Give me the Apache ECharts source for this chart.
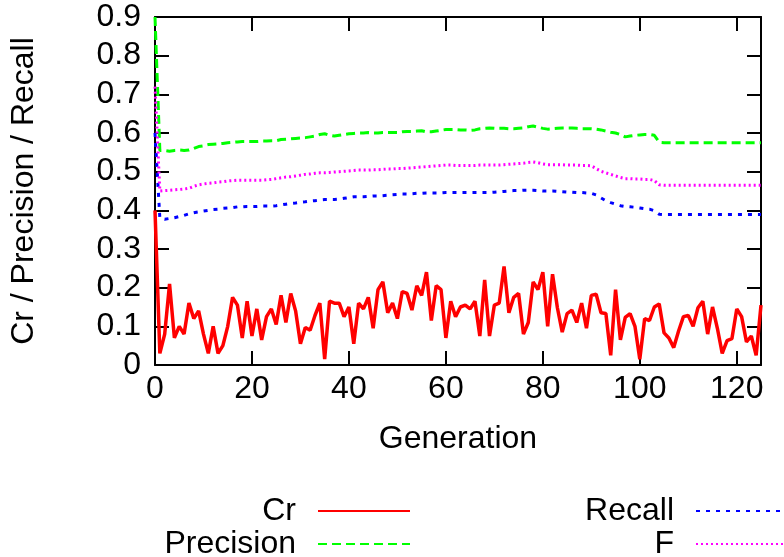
<!DOCTYPE html>
<html>
<head>
<meta charset="UTF-8">
<title>Cr / Precision / Recall</title>
<script src="https://cdn.jsdelivr.net/npm/echarts@6/dist/echarts.min.js"></script>
<style>
  html, body { margin: 0; padding: 0; background: #fff; }
  #main { width: 784px; height: 557px; }
</style>
</head>
<body>
<div id="main"></div>
<script type="text/javascript">
// x domain: generations 0..125
var generations = Array.from({ length: 126 }, function (_, i) { return i; });

var crData = [
  0.40, 0.03, 0.08, 0.21, 0.07, 0.10, 0.08, 0.16, 0.12, 0.14,
  0.08, 0.03, 0.10, 0.03, 0.05, 0.10, 0.175, 0.155, 0.07, 0.165,
  0.075, 0.145, 0.065, 0.125, 0.145, 0.105, 0.18, 0.11, 0.185, 0.14,
  0.055, 0.097, 0.09, 0.128, 0.16, 0.015, 0.165, 0.16, 0.16, 0.125,
  0.15, 0.055, 0.16, 0.145, 0.175, 0.095, 0.195, 0.215, 0.135, 0.16,
  0.12, 0.19, 0.185, 0.142, 0.205, 0.18, 0.24, 0.115, 0.205, 0.195,
  0.07, 0.165, 0.125, 0.15, 0.155, 0.145, 0.165, 0.075, 0.22, 0.075,
  0.155, 0.16, 0.255, 0.135, 0.175, 0.185, 0.08, 0.11, 0.215, 0.195,
  0.24, 0.10, 0.235, 0.148, 0.085, 0.133, 0.142, 0.11, 0.16, 0.095,
  0.18, 0.183, 0.135, 0.133, 0.025, 0.195, 0.065, 0.123, 0.133, 0.10,
  0.015, 0.12, 0.115, 0.15, 0.158, 0.083, 0.07, 0.045, 0.088, 0.125,
  0.128, 0.10, 0.148, 0.165, 0.08, 0.15, 0.095, 0.03, 0.063, 0.068,
  0.145, 0.125, 0.06, 0.075, 0.025, 0.155
];

var precisionData = [
  0.90, 0.555, 0.555, 0.553, 0.555, 0.556, 0.555, 0.556, 0.56, 0.565,
  0.567, 0.57, 0.571, 0.572, 0.573, 0.575, 0.576, 0.577, 0.578, 0.578,
  0.578, 0.578, 0.579, 0.579, 0.58, 0.58, 0.583, 0.584, 0.585, 0.586,
  0.587, 0.588, 0.59, 0.592, 0.596, 0.598, 0.594, 0.592, 0.594, 0.596,
  0.598, 0.599, 0.60, 0.60, 0.601, 0.60, 0.60, 0.601, 0.601, 0.601,
  0.601, 0.603, 0.604, 0.604, 0.605, 0.606, 0.603, 0.603, 0.605, 0.607,
  0.609, 0.609, 0.609, 0.608, 0.608, 0.607, 0.608, 0.611, 0.612, 0.613,
  0.612, 0.612, 0.612, 0.611, 0.611, 0.612, 0.613, 0.616, 0.618, 0.615,
  0.612, 0.61, 0.611, 0.612, 0.613, 0.613, 0.613, 0.612, 0.611, 0.611,
  0.611, 0.61, 0.608, 0.605, 0.602, 0.60, 0.596, 0.59, 0.592, 0.594,
  0.595, 0.596, 0.596, 0.594, 0.576, 0.575, 0.575, 0.575, 0.575, 0.575,
  0.575, 0.575, 0.575, 0.575, 0.575, 0.575, 0.575, 0.575, 0.575, 0.575,
  0.575, 0.575, 0.575, 0.575, 0.575, 0.575
];

var recallData = [
  0.60, 0.38, 0.377, 0.379, 0.381, 0.384, 0.387, 0.391, 0.394, 0.396,
  0.398, 0.40, 0.402, 0.403, 0.405, 0.406, 0.407, 0.409, 0.409, 0.41,
  0.41, 0.41, 0.411, 0.411, 0.411, 0.412, 0.414, 0.416, 0.418, 0.419,
  0.421, 0.422, 0.424, 0.425, 0.427, 0.428, 0.428, 0.428, 0.429, 0.431,
  0.433, 0.435, 0.435, 0.435, 0.436, 0.437, 0.437, 0.438, 0.439, 0.44,
  0.441, 0.442, 0.442, 0.443, 0.444, 0.444, 0.445, 0.445, 0.445, 0.445,
  0.446, 0.446, 0.446, 0.446, 0.446, 0.446, 0.446, 0.446, 0.446, 0.446,
  0.447, 0.448, 0.449, 0.45, 0.451, 0.451, 0.452, 0.452, 0.452, 0.451,
  0.45, 0.45, 0.45, 0.449, 0.448, 0.447, 0.447, 0.446, 0.446, 0.445,
  0.444, 0.44, 0.432, 0.425, 0.42, 0.416, 0.412, 0.41, 0.409, 0.408,
  0.406, 0.404, 0.403, 0.399, 0.39, 0.389, 0.389, 0.389, 0.389, 0.389,
  0.389, 0.389, 0.389, 0.389, 0.389, 0.389, 0.389, 0.389, 0.389, 0.389,
  0.389, 0.389, 0.389, 0.389, 0.389, 0.389
];

var fData = [
  0.72, 0.45, 0.451, 0.452, 0.453, 0.454, 0.455, 0.457, 0.462, 0.466,
  0.468, 0.47, 0.471, 0.473, 0.474, 0.476, 0.477, 0.478, 0.478, 0.478,
  0.478, 0.478, 0.478, 0.479, 0.48, 0.482, 0.484, 0.486, 0.487, 0.489,
  0.491, 0.493, 0.494, 0.496, 0.497, 0.497, 0.498, 0.499, 0.50, 0.501,
  0.502, 0.503, 0.504, 0.504, 0.504, 0.505, 0.505, 0.506, 0.507, 0.507,
  0.508, 0.508, 0.509, 0.51, 0.511, 0.512, 0.513, 0.514, 0.515, 0.516,
  0.517, 0.517, 0.516, 0.516, 0.516, 0.516, 0.516, 0.517, 0.517, 0.517,
  0.517, 0.517, 0.518, 0.519, 0.52, 0.521, 0.522, 0.524, 0.525, 0.523,
  0.52, 0.518, 0.518, 0.518, 0.518, 0.517, 0.517, 0.517, 0.516, 0.516,
  0.515, 0.508, 0.501, 0.497, 0.493, 0.489, 0.485, 0.482, 0.482, 0.481,
  0.481, 0.48, 0.48, 0.477, 0.466, 0.465, 0.465, 0.465, 0.465, 0.465,
  0.465, 0.465, 0.465, 0.465, 0.465, 0.465, 0.465, 0.465, 0.465, 0.465,
  0.465, 0.465, 0.465, 0.465, 0.465, 0.465
];

var xTicks = [0, 20, 40, 60, 80, 100, 120];

function pairs(values) {
  return generations.map(function (g, i) { return [g, values[i]]; });
}

var font = "'Liberation Sans', Arial, sans-serif";
var black = '#000';

var myChart = echarts.init(document.getElementById('main'));

var frameX = {
  type: 'value', min: 0, max: 125, interval: 20,
  axisLine: { show: true, onZero: false, lineStyle: { color: black, width: 2 } },
  axisTick: { show: true, inside: true, length: 14, lineStyle: { color: black, width: 2 } },
  splitLine: { show: false }
};
var frameY = {
  type: 'value', min: 0, max: 0.9, interval: 0.1,
  axisLine: { show: true, onZero: false, lineStyle: { color: black, width: 2 } },
  axisTick: { show: true, inside: true, length: 14, lineStyle: { color: black, width: 2 } },
  splitLine: { show: false }
};

// one legend box per entry, text on the left of the line sample
function legendBox(name, right, top) {
  return {
    data: [name],
    orient: 'vertical', align: 'right',
    right: right, top: top,
    padding: 0,
    itemWidth: 92, itemHeight: 10,
    itemStyle: { opacity: 0 },
    textStyle: { fontSize: 32, color: black, fontFamily: font, lineHeight: 32, padding: [0, 17, 0, 0] }
  };
}

var option = {
  animation: false,
  backgroundColor: '#fff',
  textStyle: { fontFamily: font },
  grid: { left: 153, right: 23, top: 17, bottom: 192, containLabel: false },
  xAxis: [
    Object.assign({}, frameX, {
      position: 'bottom',
      name: 'Generation',
      nameLocation: 'middle',
      nameGap: 58,
      nameTextStyle: { fontSize: 32, color: black, fontFamily: font },
      axisLabel: {
        fontSize: 32, color: black, fontFamily: font, margin: 8,
        formatter: function (v) { return xTicks.indexOf(v) >= 0 ? String(v) : ''; }
      }
    }),
    Object.assign({}, frameX, { position: 'top', axisLabel: { show: false } })
  ],
  yAxis: [
    Object.assign({}, frameY, {
      position: 'left',
      name: 'Cr / Precision / Recall',
      nameLocation: 'middle',
      nameGap: 115,
      nameTextStyle: { fontSize: 32, color: black, fontFamily: font },
      axisLabel: {
        fontSize: 32, color: black, fontFamily: font, margin: 14,
        formatter: function (v) {
          var t = Math.round(v * 10) / 10;
          return t === 0 ? '0' : t.toFixed(1);
        }
      }
    }),
    Object.assign({}, frameY, { position: 'right', axisLabel: { show: false } })
  ],
  legend: [
    legendBox('Cr', 373, 495),
    legendBox('Precision', 373, 528),
    legendBox('Recall', -5, 495),
    legendBox('F', -5, 528)
  ],
  series: [
    {
      name: 'Cr', type: 'line', data: pairs(crData),
      symbol: 'none', color: '#ff0000',
      lineStyle: { color: '#ff0000', width: 3.5 }
    },
    {
      name: 'Precision', type: 'line', data: pairs(precisionData),
      symbol: 'none', color: '#00ff00',
      lineStyle: { color: '#00ff00', width: 3, type: [9, 5] }
    },
    {
      name: 'Recall', type: 'line', data: pairs(recallData),
      symbol: 'none', color: '#0000ff',
      lineStyle: { color: '#0000ff', width: 3, type: [4, 6] }
    },
    {
      name: 'F', type: 'line', data: pairs(fData),
      symbol: 'none', color: '#ff00ff',
      lineStyle: { color: '#ff00ff', width: 3, type: [2, 3] }
    }
  ]
};

myChart.setOption(option);
</script>
</body>
</html>
